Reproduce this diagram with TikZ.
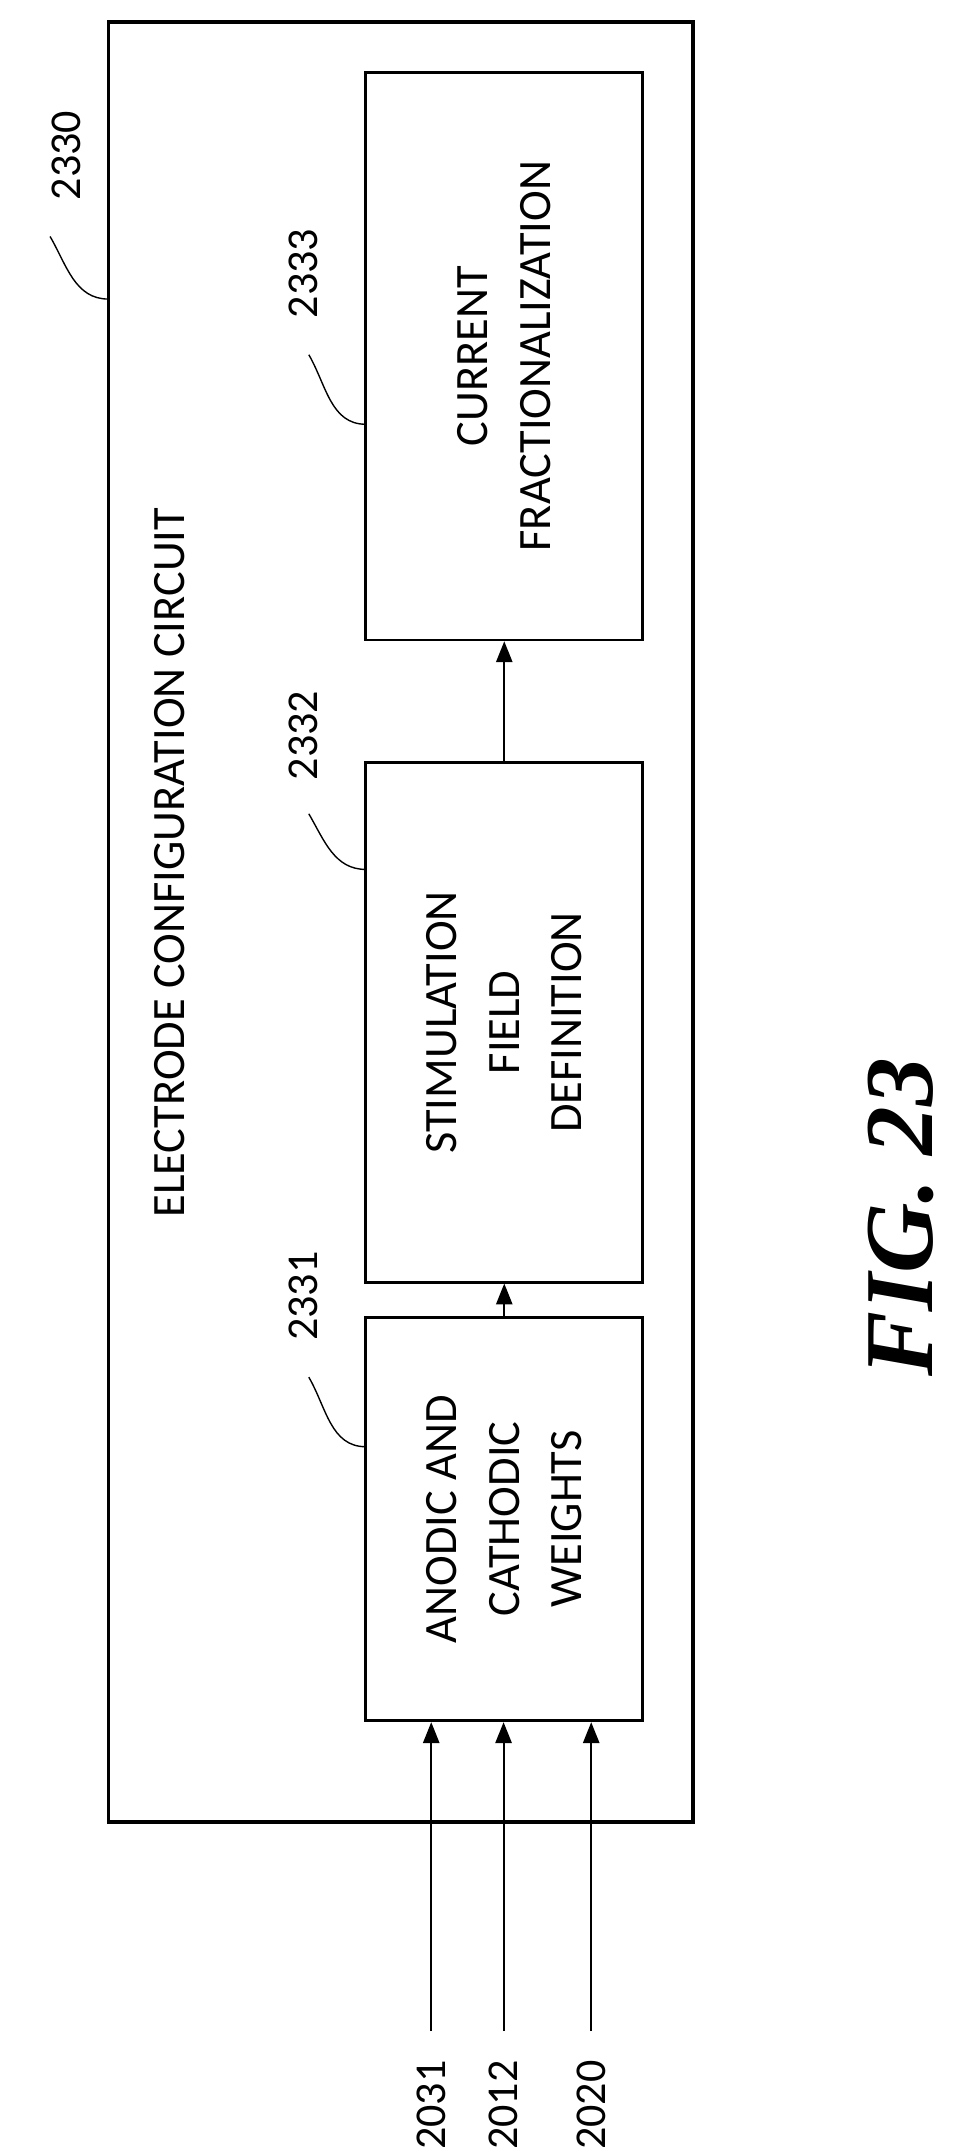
\documentclass[tikz,border=0pt]{standalone}
\usepackage{fontspec}
\setmainfont{Carlito}
\newfontfamily\figfont{Liberation Serif}
\usetikzlibrary{arrows.meta}

\begin{document}
\begin{tikzpicture}[x=0.6pt, y=-0.6pt, thick,
    block/.style={draw, line width=1.2pt, minimum height=119.4pt, align=center, rotate=90, font=\fontsize{20}{27}\selectfont},
    ref/.style={rotate=90, font=\fontsize{19}{22}\selectfont},
    lead/.style={line width=0.6pt},
    feed/.style={line width=0.8pt, -{Triangle[length=9pt, width=7pt]}}]

  \useasboundingbox (0,0) rectangle (690,1547);

  % outer circuit
  \node[draw, line width=1.6pt, minimum width=776.4pt, minimum height=252pt, rotate=90] (circ) at (288,663) {};
  \node[ref, font=\fontsize{20}{22}\selectfont] (title) at (122,620) {ELECTRODE CONFIGURATION CIRCUIT};

  % blocks
  \node[block, minimum width=244.8pt] (frac) at (362.5,256) {CURRENT\\FRACTIONALIZATION};
  \node[block, minimum width=224pt] (field) at (362.5,735) {STIMULATION\\FIELD\\DEFINITION};
  \node[block, minimum width=174pt] (weights) at (362.5,1092) {ANODIC AND\\CATHODIC\\WEIGHTS};

  \draw[feed] (weights.east) -- (field.west);
  \draw[feed] (field.east) -- (frac.west);

  % inputs
  \foreach \name/\xx in {2031/310, 2012/362, 2020/425} {
    \coordinate (in\name) at (\xx,1460);
    \node[ref, anchor=east] (lbl\name) at (\xx,1475) {\name};
    \draw[feed] (in\name) -- (in\name |- weights.west);
  }

  % reference numerals
  \node[ref, anchor=west] (n2330) at (48,150) {2330};
  \node[ref, anchor=west] (n2333) at (218,235) {2333};
  \node[ref, anchor=west] (n2332) at (218,567) {2332};
  \node[ref, anchor=west] (n2331) at (218,970) {2331};

  \coordinate (c2330) at (78,215);
  \coordinate (c2333) at (263,305);
  \coordinate (c2332) at (263,625);
  \coordinate (c2331) at (263,1040);
  \draw[lead] (36,170) to[out=-60, in=180] (c2330);
  \draw[lead] (222,255) to[out=-60, in=180] (c2333);
  \draw[lead] (222,585) to[out=-60, in=180] (c2332);
  \draw[lead] (222,990) to[out=-60, in=180] (c2331);

  \node[rotate=90, font=\figfont\bfseries\itshape\fontsize{42}{48}\selectfont] (fig) at (648,875) {FIG. 23};
\end{tikzpicture}
\end{document}
